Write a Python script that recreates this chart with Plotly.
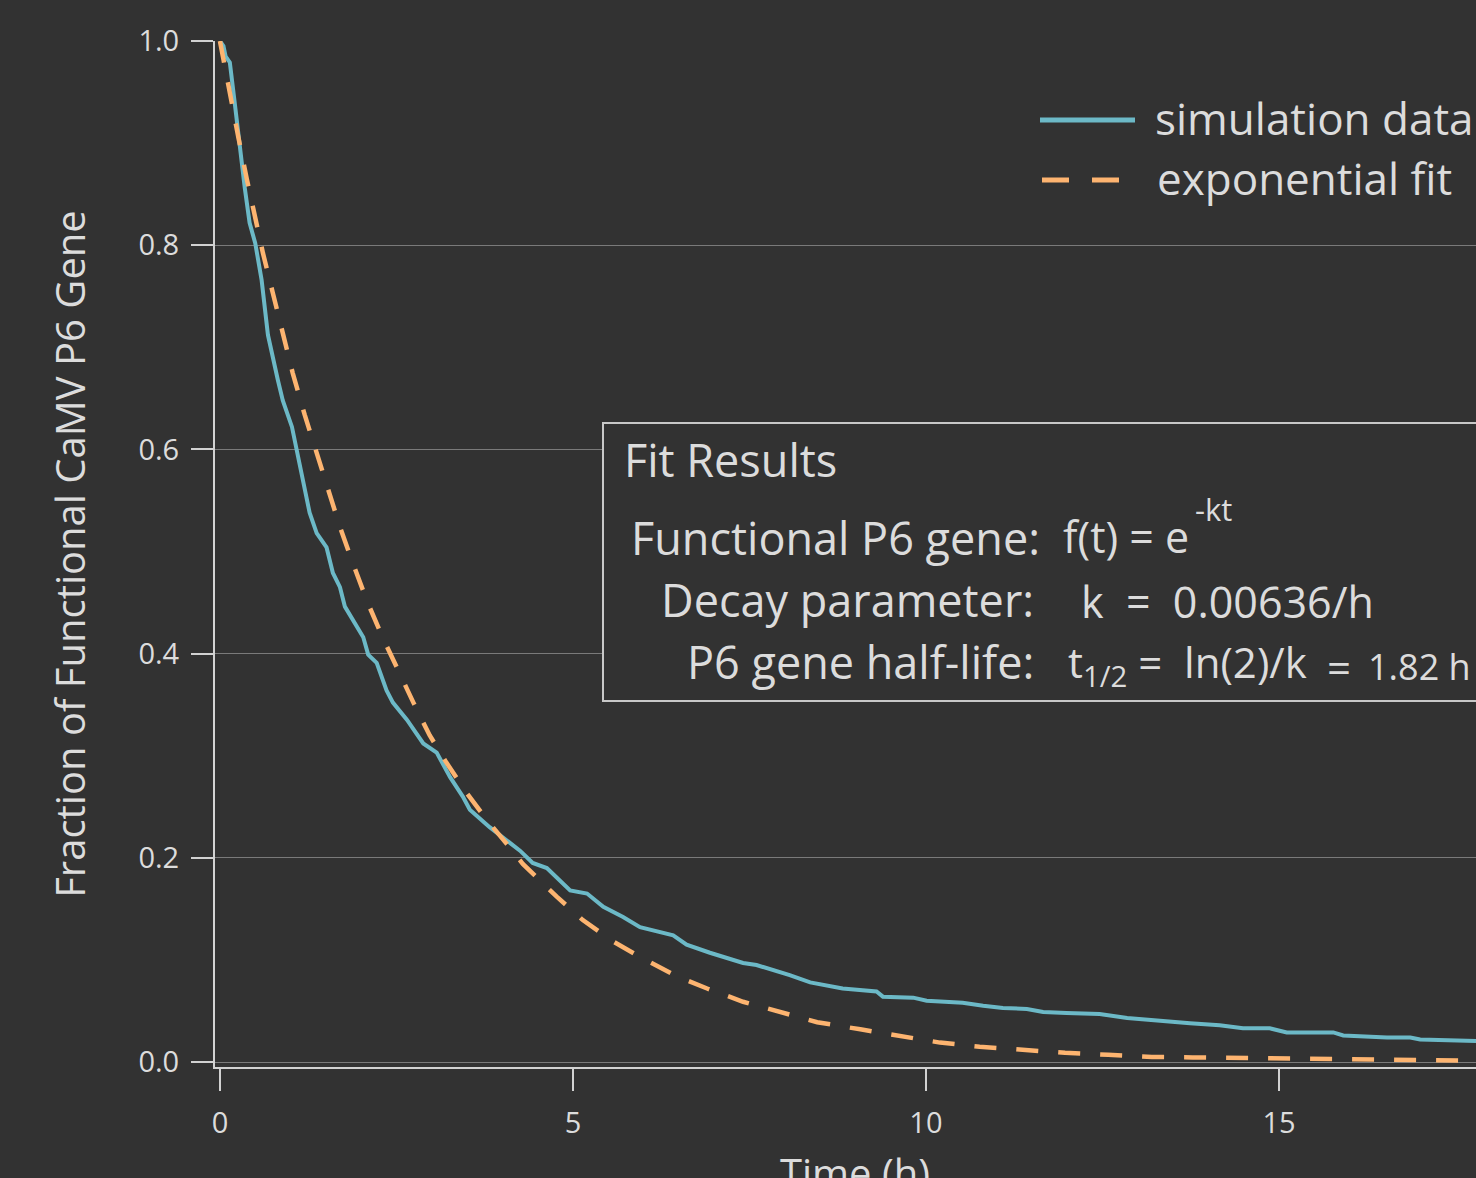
import plotly.graph_objects as go

# ---- data ----
sim_t = [0.00, 0.05, 0.08, 0.14, 0.21, 0.28, 0.35, 0.42, 0.50, 0.59, 0.68, 0.82, 0.89, 1.02,
         1.09, 1.27, 1.37, 1.51, 1.60, 1.70, 1.77, 2.03, 2.10, 2.22, 2.36, 2.45, 2.65, 2.83,
         2.88, 3.07, 3.26, 3.44, 3.54, 3.82, 4.01, 4.25, 4.43, 4.63, 4.96, 5.20, 5.43, 5.71,
         5.95, 6.23, 6.42, 6.61, 6.94, 7.41, 7.60, 8.07, 8.36, 8.82, 9.30, 9.39, 9.82, 10.01,
         10.30, 10.52, 10.81, 11.09, 11.43, 11.66, 11.99, 12.46, 12.85, 13.31, 13.74, 14.16,
         14.49, 14.87, 15.11, 15.77, 15.91, 16.53, 16.86, 17.00, 17.80, 18.10]
sim_f = [1.000, 0.995, 0.985, 0.979, 0.939, 0.896, 0.857, 0.822, 0.802, 0.766, 0.712, 0.668, 0.648, 0.622,
         0.599, 0.538, 0.518, 0.504, 0.479, 0.465, 0.446, 0.416, 0.399, 0.391, 0.364, 0.352, 0.335, 0.318,
         0.312, 0.303, 0.279, 0.260, 0.247, 0.230, 0.220, 0.207, 0.195, 0.190, 0.168, 0.165, 0.152, 0.142,
         0.132, 0.127, 0.124, 0.115, 0.107, 0.097, 0.095, 0.085, 0.078, 0.072, 0.069, 0.064, 0.063, 0.060,
         0.059, 0.058, 0.055, 0.053, 0.052, 0.049, 0.048, 0.047, 0.043, 0.040, 0.038, 0.036,
         0.033, 0.033, 0.029, 0.029, 0.026, 0.024, 0.024, 0.022, 0.021, 0.020]

fit_t = [0.00, 0.14, 0.26, 0.38, 0.50, 0.61, 0.75, 0.89, 1.03, 1.20, 1.37, 1.53, 1.70, 1.88,
         2.08, 2.29, 2.50, 2.74, 2.97, 3.21, 3.49, 3.78, 4.07, 4.29, 4.77, 5.14, 5.57, 6.00,
         6.47, 6.90, 7.41, 7.93, 8.46, 9.07, 9.63, 10.20, 10.76, 11.33, 11.97, 12.58, 13.20,
         13.78, 14.41, 15.01, 15.62, 16.25, 16.86, 18.10]
fit_f = [1.000, 0.948, 0.906, 0.865, 0.827, 0.792, 0.753, 0.714, 0.675, 0.634, 0.596, 0.560, 0.524, 0.489,
         0.452, 0.418, 0.386, 0.352, 0.320, 0.293, 0.264, 0.237, 0.213, 0.194, 0.162, 0.139, 0.118, 0.101,
         0.084, 0.072, 0.059, 0.049, 0.039, 0.032, 0.025, 0.019, 0.015, 0.012, 0.009, 0.007, 0.005,
         0.0045, 0.004, 0.003, 0.0026, 0.002, 0.0016, 0.001]

series_names = ["simulation data", "exponential fit"]
x_ticks = [0, 5, 10, 15]
y_ticks = [0.0, 0.2, 0.4, 0.6, 0.8, 1.0]
x_title = "Time (h)"
y_title = "Fraction of Functional CaMV P6 Gene"
box_title = "Fit Results"
box_labels = ["Functional P6 gene:", "Decay parameter:", "P6 gene half-life:"]
formula_base = "f(t) = e"
formula_exp = "-kt"
decay_value = "k  =  0.00636/h"
halflife_expr = "t<sub>1/2</sub> =  ln(2)/k"
halflife_eq = "="
halflife_value = "1.82 h"

# ---- styles ----
BG = "#323232"
TXT = "#dcdcdc"
AX = "#d2d2d2"
GRID = "#7a7a7a"
TEAL = "#6cb9c7"
ORANGE = "#fdb470"
FONT = "Open Sans"

W, H = 1600, 1240
L, R, T, B = 215, 105, 41, 173
PW, PH = W - L - R, H - T - B


def px(xp):
    return (xp - L) / PW


def py(yp):
    return (H - B - yp) / PH


fig = go.Figure()
fig.add_trace(go.Scatter(x=sim_t, y=sim_f, mode="lines", name=series_names[0],
                         line=dict(color=TEAL, width=4), showlegend=False))
fig.add_trace(go.Scatter(x=fit_t, y=fit_f, mode="lines", name=series_names[1],
                         line=dict(color=ORANGE, width=4.5, dash="22px,20px"), showlegend=False))

fig.update_layout(
    width=W, height=H,
    margin=dict(l=L, r=R, t=T, b=B, pad=0),
    paper_bgcolor=BG, plot_bgcolor=BG,
    font=dict(family=FONT, color=TXT, size=28),
    showlegend=False,
)
fig.update_xaxes(
    range=[-0.07, 18.06], tickvals=x_ticks, ticks="outside", ticklen=22, tickwidth=2,
    tickcolor=AX, showline=True, linecolor=AX, linewidth=2, showgrid=False, zeroline=False,
    tickfont=dict(size=29, color=TXT), ticklabelstandoff=7,
    title=dict(text=x_title, font=dict(size=40, color=TXT), standoff=20),
    automargin=False,
)
fig.update_yaxes(
    range=[-0.0049, 1.0], tickvals=y_ticks, tickformat=".1f", ticks="outside", ticklen=22,
    tickwidth=2, tickcolor=AX, showline=True, linecolor=AX, linewidth=2, showgrid=True,
    gridcolor=GRID, gridwidth=1, zeroline=False, tickfont=dict(size=29, color=TXT),
    ticklabelstandoff=6,
    title=dict(text=y_title, font=dict(size=40, color=TXT), standoff=40),
    automargin=False,
)

shapes = []
# fit results box
shapes.append(dict(type="rect", xref="paper", yref="paper", x0=px(603), x1=1.0,
                   y0=py(701), y1=py(423), fillcolor=BG, line=dict(color="#c8c8c8", width=2),
                   layer="above"))
# legend samples
shapes.append(dict(type="line", xref="paper", yref="paper", x0=px(1040), x1=px(1135),
                   y0=py(120), y1=py(120), line=dict(color=TEAL, width=5)))
shapes.append(dict(type="line", xref="paper", yref="paper", x0=px(1042), x1=px(1120),
                   y0=py(180), y1=py(180), line=dict(color=ORANGE, width=5, dash="27px,23px")))
fig.update_layout(shapes=shapes)

ann = []
ann.append(dict(text=series_names[0], x=px(1153), y=py(118), xanchor="left", yanchor="middle", size=44))
ann.append(dict(text=series_names[1], x=px(1155), y=py(178), xanchor="left", yanchor="middle", size=44))
ann.append(dict(text=box_title, x=px(622), y=py(460), xanchor="left", yanchor="middle", size=45))
# row 1
ann.append(dict(text=box_labels[0], x=px(1042), y=py(570), xanchor="right", yanchor="bottom", size=45))
ann.append(dict(text=formula_base, x=px(1061), y=py(568), xanchor="left", yanchor="bottom", size=43))
ann.append(dict(text=formula_exp, x=px(1193), y=py(532), xanchor="left", yanchor="bottom", size=31))
# row 2
ann.append(dict(text=box_labels[1], x=px(1036), y=py(600), xanchor="right", yanchor="middle", size=45))
ann.append(dict(text=decay_value, x=px(1079), y=py(601), xanchor="left", yanchor="middle", size=43))
# row 3
ann.append(dict(text=box_labels[2], x=px(1036), y=py(629), xanchor="right", yanchor="top", size=45))
ann.append(dict(text=halflife_expr, x=px(1066), y=py(631), xanchor="left", yanchor="top", size=42))
ann.append(dict(text=halflife_eq, x=px(1325), y=py(636), xanchor="left", yanchor="top", size=42))
ann.append(dict(text=halflife_value, x=px(1366), y=py(640), xanchor="left", yanchor="top", size=36))

for a in ann:
    s = a.pop("size")
    a.update(xref="paper", yref="paper", showarrow=False, align="left",
             font=dict(family=FONT, color=TXT, size=s))
fig.update_layout(annotations=ann)

fig.write_html("out.html")
